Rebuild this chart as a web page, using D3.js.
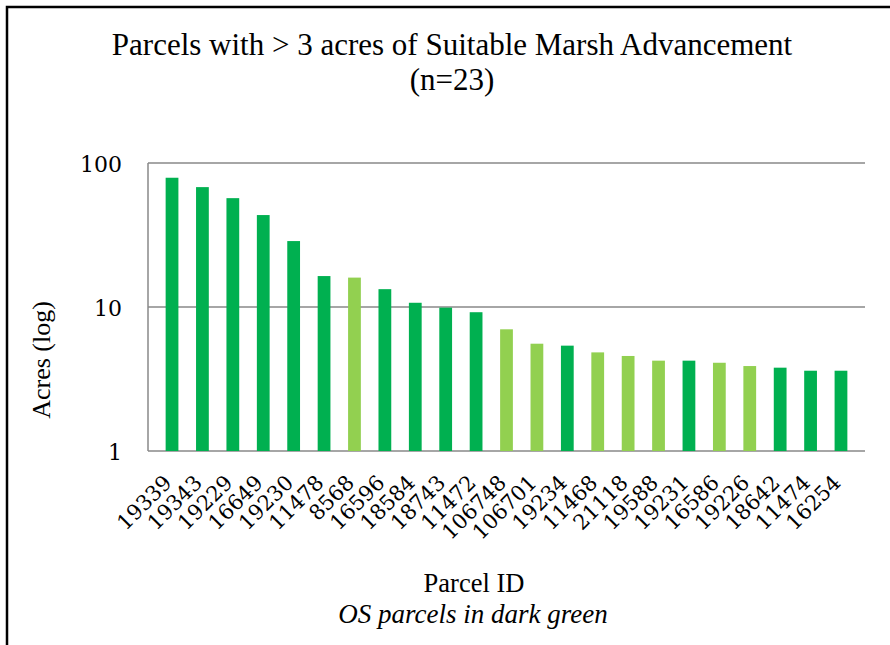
<!DOCTYPE html>
<html>
<head>
<meta charset="utf-8">
<script src="https://unpkg.com/d3@7/dist/d3.min.js"></script>
<style>
  body { margin: 0; background: #fff; }
  text { font-family: "Liberation Serif", "DejaVu Serif", serif; fill: #000; }
</style>
</head>
<body>
<svg id="chart"></svg>
<script>
// parcel ids, acres and whether the parcel is OS (dark green)
var parcels = ["19339","19343","19229","16649","19230","11478","8568","16596","18584","18743","11472",
               "106748","106701","19234","11468","21118","19588","19231","16586","19226","18642","11474","16254"];
var acres = [79, 68, 57, 43.5, 28.7, 16.4, 16.0, 13.3, 10.7, 9.9, 9.2,
             7.0, 5.56, 5.39, 4.84, 4.57, 4.24, 4.24, 4.1, 3.89, 3.79, 3.61, 3.61];
var isOS = [1,1,1,1,1,1,0,1,1,1,1, 0,0,1,0,0,0,1,0,0,1,1,1];
var yTicks = [1, 10, 100];

var W = 890, H = 645;
var margin = {top: 163, right: 25, bottom: 194, left: 148},
    width = W - margin.left - margin.right,
    height = H - margin.top - margin.bottom;

var svg = d3.select("#chart").attr("width", W).attr("height", H);

// outer frame (runs off the right and bottom edge)
svg.append("rect")
    .attr("x", 7).attr("y", 7)
    .attr("width", W).attr("height", H)
    .attr("fill", "none").attr("stroke", "#000").attr("stroke-width", 2.5);

// title
svg.append("text")
    .attr("x", 452).attr("y", 55)
    .attr("text-anchor", "middle")
    .style("font-size", "31px")
    .text("Parcels with > 3 acres of Suitable Marsh Advancement");
svg.append("text")
    .attr("x", 452).attr("y", 90)
    .attr("text-anchor", "middle")
    .style("font-size", "31px")
    .text("(n=23)");

var g = svg.append("g")
    .attr("transform", "translate(" + margin.left + "," + margin.top + ")");

var x = d3.scaleBand().domain(parcels).range([0, width]).padding(0.58);
var y = d3.scaleLog().domain([1, 100]).range([height, 0]);

// gridlines
g.append("g")
    .selectAll("line")
    .data(yTicks)
    .enter().append("line")
    .attr("x1", 0).attr("x2", width)
    .attr("y1", function(d){ return y(d); })
    .attr("y2", function(d){ return y(d); })
    .attr("stroke", "#898989").attr("stroke-width", 1.5);

// left axis line
g.append("line")
    .attr("x1", 0).attr("x2", 0)
    .attr("y1", y(100)).attr("y2", y(1))
    .attr("stroke", "#898989").attr("stroke-width", 1.5);

// bars
g.selectAll(".bar")
    .data(parcels)
    .enter().append("rect")
    .attr("class", "bar")
    .attr("x", function(d){ return x(d); })
    .attr("width", x.bandwidth())
    .attr("y", function(d, i){ return y(acres[i]); })
    .attr("height", function(d, i){ return y(1) - y(acres[i]); })
    .attr("fill", function(d, i){ return isOS[i] ? "#00B050" : "#92D050"; });

// y axis labels
var yAxis = g.append("g")
    .call(d3.axisLeft(y).tickValues(yTicks).tickFormat(d3.format("d")).tickSize(0).tickPadding(26));
yAxis.select(".domain").remove();
yAxis.selectAll("text")
    .style("font-size", "22px")
    .style("font-family", "DejaVu Serif, serif")
    .attr("dy", "0.4em");

// x axis labels
var xAxis = g.append("g")
    .attr("transform", "translate(0," + height + ")")
    .call(d3.axisBottom(x).tickSize(0).tickPadding(0));
xAxis.select(".domain").remove();
xAxis.selectAll("text")
    .style("font-size", "21px")
    .style("font-family", "DejaVu Serif, serif")
    .attr("text-anchor", "end")
    .attr("dy", 0)
    .attr("transform", "translate(1,33) rotate(-45)");

// axis titles
svg.append("text")
    .attr("transform", "translate(50,360) rotate(-90)")
    .attr("text-anchor", "middle")
    .style("font-size", "26px")
    .text("Acres (log)");

svg.append("text")
    .attr("x", 474).attr("y", 592)
    .attr("text-anchor", "middle")
    .style("font-size", "26.5px")
    .text("Parcel ID");

svg.append("text")
    .attr("x", 473).attr("y", 623)
    .attr("text-anchor", "middle")
    .style("font-size", "27px")
    .style("font-style", "italic")
    .text("OS parcels in dark green");
</script>
</body>
</html>
